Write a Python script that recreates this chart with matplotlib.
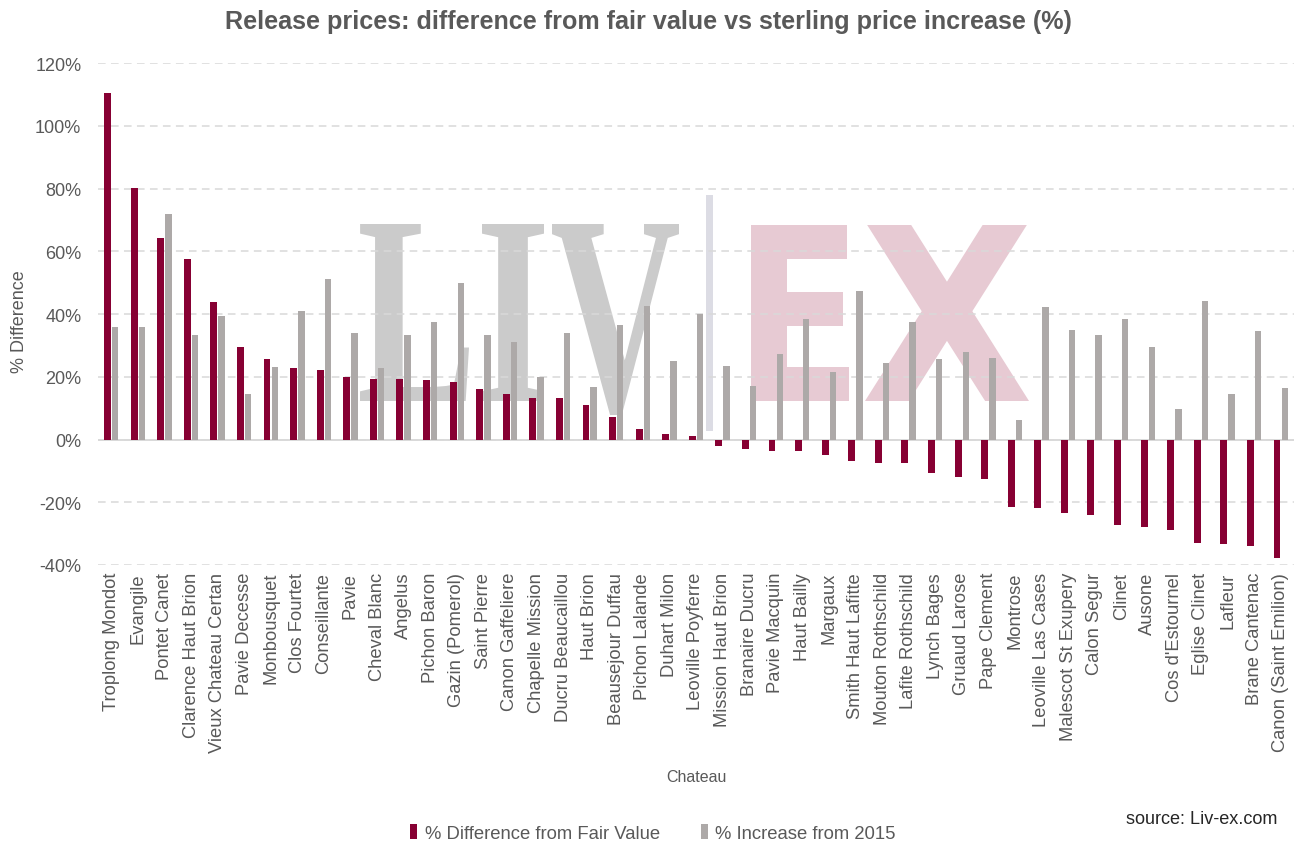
import matplotlib
matplotlib.use("Agg")
import matplotlib.pyplot as plt
import numpy as np
from matplotlib.textpath import TextPath
from matplotlib.patches import PathPatch, Rectangle, Patch
from matplotlib.font_manager import FontProperties
from matplotlib.transforms import Affine2D
from matplotlib.ticker import FuncFormatter, MultipleLocator

# ---------------- data ----------------
chateaux = [
    "Troplong Mondot", "Evangile", "Pontet Canet", "Clarence Haut Brion",
    "Vieux Chateau Certan", "Pavie Decesse", "Monbousquet", "Clos Fourtet",
    "Conseillante", "Pavie", "Cheval Blanc", "Angelus", "Pichon Baron",
    "Gazin (Pomerol)", "Saint Pierre", "Canon Gaffeliere", "Chapelle Mission",
    "Ducru Beaucaillou", "Haut Brion", "Beausejour Duffau", "Pichon Lalande",
    "Duhart Milon", "Leoville Poyferre", "Mission Haut Brion", "Branaire Ducru",
    "Pavie Macquin", "Haut Bailly", "Margaux", "Smith Haut Lafitte",
    "Mouton Rothschild", "Lafite Rothschild", "Lynch Bages", "Gruaud Larose",
    "Pape Clement", "Montrose", "Leoville Las Cases", "Malescot St Exupery",
    "Calon Segur", "Clinet", "Ausone", "Cos d'Estournel", "Eglise Clinet",
    "Lafleur", "Brane Cantenac", "Canon (Saint Emilion)",
]
diff_fair_value = [
    110.4, 80.3, 64.3, 57.6, 43.7, 29.4, 25.5, 22.7, 22.2, 19.9,
    19.4, 19.4, 18.9, 18.3, 16.1, 14.4, 13.3, 13.3, 11.1, 7.2,
    3.4, 1.7, 1.2, -2.0, -3.1, -3.7, -3.7, -4.8, -7.0, -7.5,
    -7.5, -10.8, -12.0, -12.6, -21.4, -21.9, -23.5, -24.1, -27.4, -27.9,
    -29.0, -32.9, -33.4, -33.9, -37.8,
]
increase_2015 = [
    36.0, 36.0, 72.0, 33.2, 39.5, 14.4, 23.2, 41.0, 51.0, 33.8,
    22.7, 33.3, 37.6, 49.8, 33.3, 31.0, 19.8, 33.8, 16.6, 36.6,
    42.7, 25.0, 39.9, 23.3, 17.2, 27.2, 38.3, 21.6, 47.2, 24.4,
    37.6, 25.6, 27.8, 26.1, 6.3, 42.2, 35.0, 33.3, 38.3, 29.5,
    9.7, 44.0, 14.6, 34.7, 16.3,
]
series_labels = ["% Difference from Fair Value", "% Increase from 2015"]
title = "Release prices: difference from fair value vs sterling price increase (%)"

RED = "#870033"
GREY = "#ADA9A8"
TXT = "#595959"
GRID = "#D9D9D9"

plt.rcParams["font.family"] = ["Liberation Sans", "DejaVu Sans"]

W, H = 1306, 845
fig = plt.figure(figsize=(W / 100, H / 100), dpi=100)
fig.patch.set_facecolor("white")
ax = fig.add_axes([98 / W, 1 - 566 / H, (1294 - 98) / W, (566 - 64) / H])

# ---------------- watermark (LIV | EX logo) ----------------
pix = Affine2D().scale(1 / W, 1 / H) + fig.transFigure


def add_letter(ch, prop, box, color):
    tp = TextPath((0, 0), ch, size=100, prop=prop)
    ext = tp.get_extents()
    x0, x1, ytop, ybot = box
    tr = (Affine2D().translate(-ext.x0, -ext.y0)
          .scale((x1 - x0) / ext.width, (ybot - ytop) / ext.height)
          .translate(x0, H - ybot)) + pix
    ax.add_artist(PathPatch(tp, transform=tr, facecolor=color,
                            edgecolor="none", zorder=0.2, clip_on=False))


serif = FontProperties(family="Liberation Serif", weight="bold")
sansb = FontProperties(family="DejaVu Sans", weight="bold")
LIVC = "#CBCBCB"
EXC = "#E7CAD3"
add_letter("L", serif, (360, 469, 225, 402), LIVC)
add_letter("I", serif, (482, 544, 225, 402), LIVC)
add_letter("V", serif, (552, 679, 225, 416), LIVC)
ax.add_artist(Rectangle((705.5, H - 432), 7, 236, transform=pix,
                        facecolor="#DCDCE4", edgecolor="none", zorder=0.2,
                        clip_on=False))
add_letter("E", sansb, (751, 849, 226, 402), EXC)
add_letter("X", sansb, (865, 1029, 226, 402), EXC)

# ---------------- bars ----------------
x = np.arange(len(chateaux))
ax.bar(x - 0.14, diff_fair_value, width=0.26, color=RED, zorder=2)
ax.bar(x + 0.15, increase_2015, width=0.24, color=GREY, zorder=2)

ax.set_xlim(-0.5, len(chateaux) - 0.5)
ax.set_ylim(-40, 120)
ax.yaxis.set_major_locator(MultipleLocator(20))
ax.yaxis.set_major_formatter(FuncFormatter(lambda v, p: f"{v:.0f}%"))
ax.set_axisbelow(True)
ax.yaxis.grid(True, color=GRID, linestyle=(0, (5, 3.5)), linewidth=1.1, zorder=0.5)
ax.axhline(0, color=GRID, linewidth=1.4, zorder=1.5)
for s in ax.spines.values():
    s.set_visible(False)
ax.set_facecolor("none")

ax.set_xticks(x)
ax.set_xticklabels(chateaux, rotation=90, ha="center", va="top")
ax.tick_params(axis="x", length=0, pad=5, labelsize=13.2, labelcolor=TXT)
ax.tick_params(axis="y", length=0, pad=12, labelsize=13, labelcolor=TXT)

ax.set_ylabel("% Difference", fontsize=13, color=TXT)
ax.yaxis.set_label_coords((28 - 98) / 1196, 0.486)
ax.set_xlabel("Chateau", fontsize=11.5, color=TXT)
ax.xaxis.set_label_coords(0.5, (566 - 770) / 502)

fig.text(648 / W, 1 - 22 / H, title, ha="center", va="center",
         fontsize=18.1, fontweight="bold", color=TXT)

handles = [Patch(facecolor=RED, edgecolor="none"),
           Patch(facecolor=GREY, edgecolor="none")]
fig.legend(handles, series_labels, loc="center left",
           bbox_to_anchor=(410 / W, 1 - 834 / H), ncol=2, frameon=False,
           fontsize=13.3, labelcolor=TXT, handlelength=0.4, handleheight=0.85,
           handletextpad=0.4, columnspacing=2.2, borderpad=0, borderaxespad=0)

fig.text(1277 / W, 1 - 820 / H, "source: Liv-ex.com", ha="right", va="center",
         fontsize=13.1, color="#262626")

fig.savefig("out.png", dpi=100, facecolor="white")
